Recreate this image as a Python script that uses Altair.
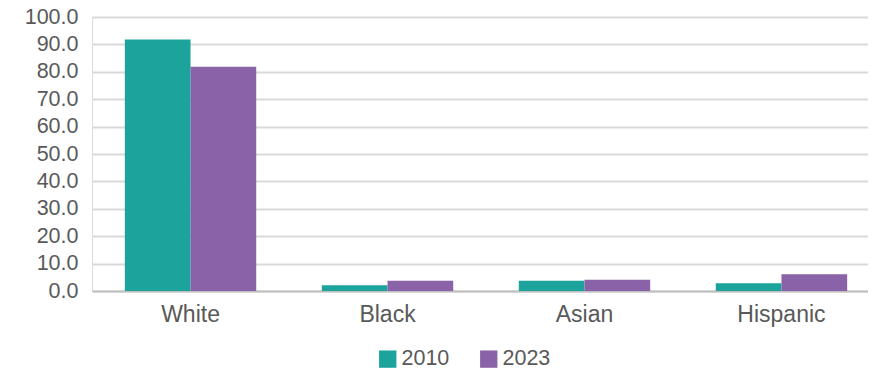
import altair as alt
import pandas as pd

categories = ["White", "Black", "Asian", "Hispanic"]
years = ["2010", "2023"]
values_2010 = [91.8, 2.1, 3.7, 2.8]
values_2023 = [81.8, 3.7, 4.1, 6.1]
y_ticks = [0, 10, 20, 30, 40, 50, 60, 70, 80, 90, 100]
colors = ["#1BA39C", "#8A62A8"]

rows = []
for c, a, b in zip(categories, values_2010, values_2023):
    rows.append({"group": c, "year": "2010", "value": a})
    rows.append({"group": c, "year": "2023", "value": b})
df = pd.DataFrame(rows)

FONT = "Liberation Sans"
GRAY = "#595959"

chart = alt.Chart(df).mark_bar().encode(
    x=alt.X("group:N", sort=categories, title=None,
            scale=alt.Scale(paddingInner=0.333, paddingOuter=0.1667, range=[0, 788]),
            axis=alt.Axis(labelAngle=0, labelFontSize=23, labelColor=GRAY, labelFont=FONT,
                          labelPadding=12, ticks=False, domainColor="#bfbfbf", domainWidth=2,
                          grid=False)),
    xOffset=alt.XOffset("year:N", sort=years, scale=alt.Scale(paddingInner=0, paddingOuter=0)),
    y=alt.Y("value:Q", title=None,
            scale=alt.Scale(domain=[0, 100], nice=False),
            axis=alt.Axis(values=y_ticks, format=".1f", labelFontSize=21.5, labelColor=GRAY,
                          labelFont=FONT, labelPadding=14, ticks=False, domain=False,
                          gridColor="#d9d9d9", gridWidth=2)),
    color=alt.Color("year:N", sort=years, title=None,
                    scale=alt.Scale(domain=years, range=colors),
                    legend=alt.Legend(orient="none", legendX=285, legendY=331,
                                      direction="horizontal", symbolType="square",
                                      symbolSize=300, symbolStrokeWidth=0,
                                      labelFontSize=21.5, labelColor=GRAY, labelFont=FONT,
                                      labelOffset=3, columnPadding=28)),
).properties(
    width=776, height=274,
    autosize=alt.AutoSizeParams(type="none"),
    padding={"left": 84, "top": 9, "right": 0, "bottom": 78},
).configure_view(stroke=None).configure(background="white")

chart.save("out.html", embed_options={"renderer": "svg", "actions": False})
